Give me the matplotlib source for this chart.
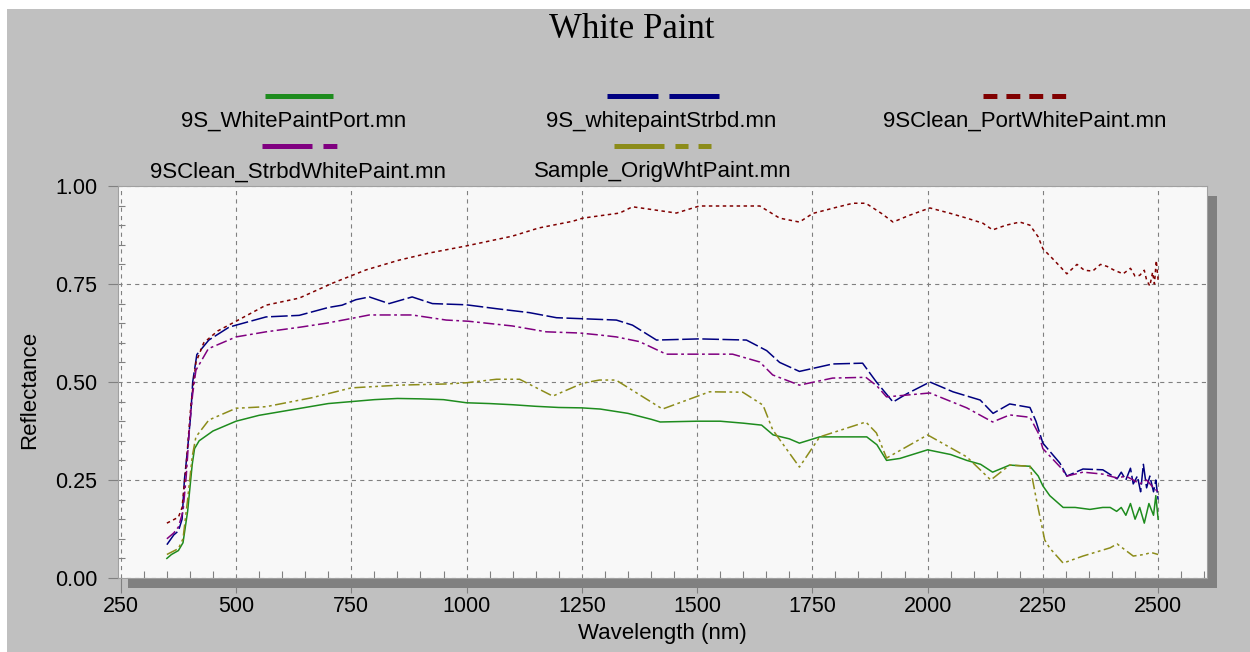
import numpy as np
import matplotlib.pyplot as plt
from matplotlib.lines import Line2D
from matplotlib.patches import Rectangle
import matplotlib.transforms as mtransforms

plt.rcParams['font.family'] = ['Liberation Sans', 'DejaVu Sans']
plt.rcParams['lines.scale_dashes'] = False

# --- data (wavelength nm, reflectance) ---
port_nm = [350, 360, 375, 385, 395, 405, 410, 420, 450, 500, 550, 600, 650, 700, 750, 800,
           850, 900, 950, 1000, 1050, 1100, 1150, 1200, 1250, 1290, 1350, 1400, 1420, 1500,
           1550, 1600, 1640, 1665, 1700, 1722, 1766, 1820, 1868, 1890, 1911, 1940, 2000,
           2050, 2085, 2115, 2141, 2178, 2222, 2240, 2250, 2265, 2294, 2320, 2352, 2380,
           2396, 2410, 2420, 2430, 2440, 2450, 2460, 2470, 2480, 2490, 2495, 2500]
port_r = [0.05, 0.06, 0.07, 0.09, 0.17, 0.29, 0.33, 0.35, 0.375, 0.40, 0.415, 0.425, 0.435,
          0.445, 0.45, 0.455, 0.458, 0.457, 0.455, 0.447, 0.445, 0.442, 0.438, 0.435, 0.434,
          0.431, 0.42, 0.405, 0.398, 0.40, 0.40, 0.395, 0.39, 0.365, 0.355, 0.344, 0.36,
          0.36, 0.36, 0.34, 0.30, 0.305, 0.327, 0.315, 0.30, 0.29, 0.27, 0.288, 0.285, 0.26,
          0.235, 0.21, 0.18, 0.18, 0.175, 0.18, 0.18, 0.17, 0.18, 0.16, 0.19, 0.15, 0.18,
          0.14, 0.19, 0.16, 0.21, 0.15]

strbd_nm = [350, 365, 375, 383, 388, 395, 402, 406, 415, 441, 485, 500, 565, 637, 700, 730,
            760, 789, 832, 882, 926, 999, 1065, 1136, 1195, 1282, 1325, 1360, 1412, 1505,
            1607, 1651, 1679, 1722, 1794, 1859, 1889, 1925, 1955, 2005, 2055, 2114, 2142,
            2178, 2222, 2235, 2250, 2287, 2302, 2337, 2380, 2411, 2420, 2430, 2440, 2446,
            2455, 2462, 2468, 2475, 2482, 2490, 2495, 2500]
strbd_r = [0.085, 0.11, 0.12, 0.15, 0.25, 0.33, 0.42, 0.50, 0.57, 0.607, 0.64, 0.645, 0.666,
           0.67, 0.69, 0.696, 0.71, 0.717, 0.70, 0.717, 0.70, 0.697, 0.687, 0.677, 0.664,
           0.66, 0.658, 0.645, 0.607, 0.61, 0.607, 0.58, 0.55, 0.527, 0.546, 0.548, 0.50,
           0.449, 0.47, 0.50, 0.475, 0.454, 0.42, 0.444, 0.435, 0.40, 0.344, 0.293, 0.26,
           0.278, 0.276, 0.253, 0.27, 0.25, 0.28, 0.24, 0.26, 0.22, 0.29, 0.23, 0.26, 0.22,
           0.25, 0.20]

clean_strbd_nm = [350, 365, 375, 385, 392, 400, 406, 413, 440, 500, 565, 640, 696, 750, 789,
                  882, 956, 1004, 1099, 1173, 1245, 1288, 1325, 1375, 1433, 1577, 1636, 1664,
                  1722, 1794, 1866, 1890, 1911, 2005, 2085, 2141, 2178, 2222, 2240, 2250,
                  2290, 2302, 2337, 2380, 2411, 2430, 2446, 2460, 2475, 2490, 2500]
clean_strbd_r = [0.10, 0.115, 0.13, 0.17, 0.26, 0.40, 0.47, 0.53, 0.585, 0.615, 0.628, 0.64,
                 0.65, 0.662, 0.671, 0.671, 0.658, 0.655, 0.643, 0.628, 0.625, 0.62, 0.615,
                 0.603, 0.571, 0.571, 0.551, 0.518, 0.492, 0.51, 0.512, 0.49, 0.462, 0.472,
                 0.434, 0.398, 0.416, 0.41, 0.37, 0.33, 0.28, 0.26, 0.27, 0.265, 0.255, 0.26,
                 0.25, 0.24, 0.25, 0.23, 0.22]

clean_port_nm = [350, 375, 383, 391, 402, 413, 430, 460, 500, 565, 637, 709, 782, 854, 919,
                 999, 1099, 1157, 1230, 1252, 1332, 1360, 1455, 1505, 1636, 1679, 1722, 1751,
                 1800, 1838, 1866, 1900, 1925, 1960, 2005, 2050, 2085, 2120, 2141, 2170, 2200,
                 2222, 2240, 2250, 2275, 2302, 2324, 2340, 2358, 2375, 2389, 2405, 2424, 2440,
                 2450, 2460, 2470, 2475, 2482, 2488, 2492, 2496, 2500]
clean_port_r = [0.14, 0.155, 0.18, 0.275, 0.44, 0.55, 0.60, 0.63, 0.655, 0.696, 0.714, 0.752,
                0.786, 0.811, 0.829, 0.847, 0.872, 0.893, 0.91, 0.918, 0.931, 0.947, 0.931,
                0.949, 0.949, 0.918, 0.908, 0.93, 0.945, 0.956, 0.956, 0.93, 0.908, 0.925,
                0.944, 0.93, 0.918, 0.905, 0.888, 0.90, 0.908, 0.90, 0.87, 0.84, 0.81, 0.776,
                0.80, 0.785, 0.783, 0.80, 0.795, 0.785, 0.776, 0.79, 0.77, 0.772, 0.785, 0.76,
                0.745, 0.78, 0.75, 0.81, 0.76]

orig_nm = [350, 375, 385, 395, 405, 413, 441, 500, 565, 665, 750, 854, 956, 999, 1065, 1115,
           1187, 1252, 1288, 1324, 1425, 1527, 1599, 1643, 1664, 1722, 1766, 1866, 1889, 1911,
           2000, 2085, 2137, 2178, 2222, 2236, 2254, 2265, 2294, 2337, 2396, 2411, 2446,
           2470, 2485, 2500]
orig_r = [0.06, 0.075, 0.10, 0.20, 0.31, 0.36, 0.403, 0.433, 0.437, 0.46, 0.485, 0.492, 0.495,
          0.498, 0.507, 0.507, 0.464, 0.497, 0.505, 0.505, 0.431, 0.475, 0.474, 0.441, 0.378,
          0.283, 0.36, 0.398, 0.37, 0.306, 0.365, 0.309, 0.25, 0.288, 0.285, 0.20, 0.097,
          0.076, 0.038, 0.056, 0.077, 0.087, 0.056, 0.06, 0.065, 0.06]

labels = ['9S_WhitePaintPort.mn', '9S_whitepaintStrbd.mn', '9SClean_PortWhitePaint.mn',
          '9SClean_StrbdWhitePaint.mn', 'Sample_OrigWhtPaint.mn']
colors = ['#1e8c1e', '#000080', '#800000', '#800080', '#8c8c1a']

W, H = 1250, 652
fig = plt.figure(figsize=(12.5, 6.52), dpi=100)
fig.patch.set_facecolor('white')


def fx(x):
    return x / W


def fy(y):
    return 1 - y / H


# grey window background
fig.add_artist(Rectangle((fx(7), 0), 1, fy(9), transform=fig.transFigure,
                         facecolor='#c0c0c0', edgecolor='none', zorder=-10))

ax = fig.add_axes([fx(118), fy(578), (1207 - 118) / W, (578 - 186) / H])
ax.set_facecolor('#f8f8f8')

# drop shadow behind the plot area
shadow = Rectangle((0, 0), 1, 1, facecolor='#808080', edgecolor='none', zorder=-5,
                   transform=ax.transAxes + mtransforms.ScaledTranslation(0.10, -0.10, fig.dpi_scale_trans))
fig.add_artist(shadow)

ax.plot(port_nm, port_r, color=colors[0], lw=1.1)
ax.plot(strbd_nm, strbd_r, color=colors[1], lw=1.1, dashes=(12, 2.5))
ax.plot(clean_port_nm, clean_port_r, color=colors[2], lw=1.1, dashes=(2.5, 2.5))
ax.plot(clean_strbd_nm, clean_strbd_r, color=colors[3], lw=1.1, dashes=(8, 2.5, 2, 2.5))
ax.plot(orig_nm, orig_r, color=colors[4], lw=1.1, dashes=(8, 2.5, 2, 2.5, 2, 2.5))

ax.set_xlim(244, 2606)
ax.set_ylim(0, 1)
ax.set_xticks(np.arange(250, 2501, 250))
ax.set_xticks(np.arange(250, 2601, 50), minor=True)
ax.set_yticks(np.arange(0, 1.01, 0.25))
ax.set_yticks(np.arange(0, 1.01, 0.05), minor=True)
ax.yaxis.set_major_formatter(plt.FormatStrFormatter('%.2f'))
ax.grid(True, which='major', color='#808080', linestyle=(0, (3, 3)), lw=0.8)
ax.tick_params(which='major', direction='out', color='#808080', width=0.8, labelsize=15.5)
ax.tick_params(axis='x', which='major', length=11, pad=2)
ax.tick_params(axis='y', which='major', length=7, pad=8)
ax.tick_params(which='minor', direction='in', length=5, width=0.8, color='#808080')
for s in ax.spines.values():
    s.set_color('#a0a0a0')
    s.set_linewidth(0.8)

fig.text(fx(632), fy(29), 'White Paint', family='Liberation Serif', fontsize=25,
         ha='center', va='center')
fig.text(fx(662), fy(633), 'Wavelength (nm)', fontsize=16, ha='center', va='center')
fig.text(fx(30), fy(390), 'Reflectance', fontsize=16, rotation=90, ha='center', va='center')

# hand-built legend (line sample above each label)
leg_lines = [(265, 333, 96, None), (607, 719, 96, (36.7, 7.9)), (983, 1068, 96, (10, 6.5)),
             (262, 337, 146, (36, 7.9, 10, 7.9)), (614, 711, 146, (36, 7.9, 9.4, 7.2, 9.4, 7.2))]
leg_text = [(294, 121), (661, 121), (1025, 121), (298, 172), (663, 172)]
for i, lab in enumerate(labels):
    x0, x1, y, d = leg_lines[i]
    ln = Line2D([fx(x0), fx(x1)], [fy(y), fy(y)], transform=fig.transFigure,
                color=colors[i], lw=3.6, solid_capstyle='butt', dash_capstyle='butt')
    if d is not None:
        ln.set_dashes(d)
    fig.add_artist(ln)
    tx, ty = leg_text[i]
    fig.text(fx(tx), fy(ty), lab, fontsize=16, ha='center', va='center')

fig.savefig('out.png', dpi=100)
